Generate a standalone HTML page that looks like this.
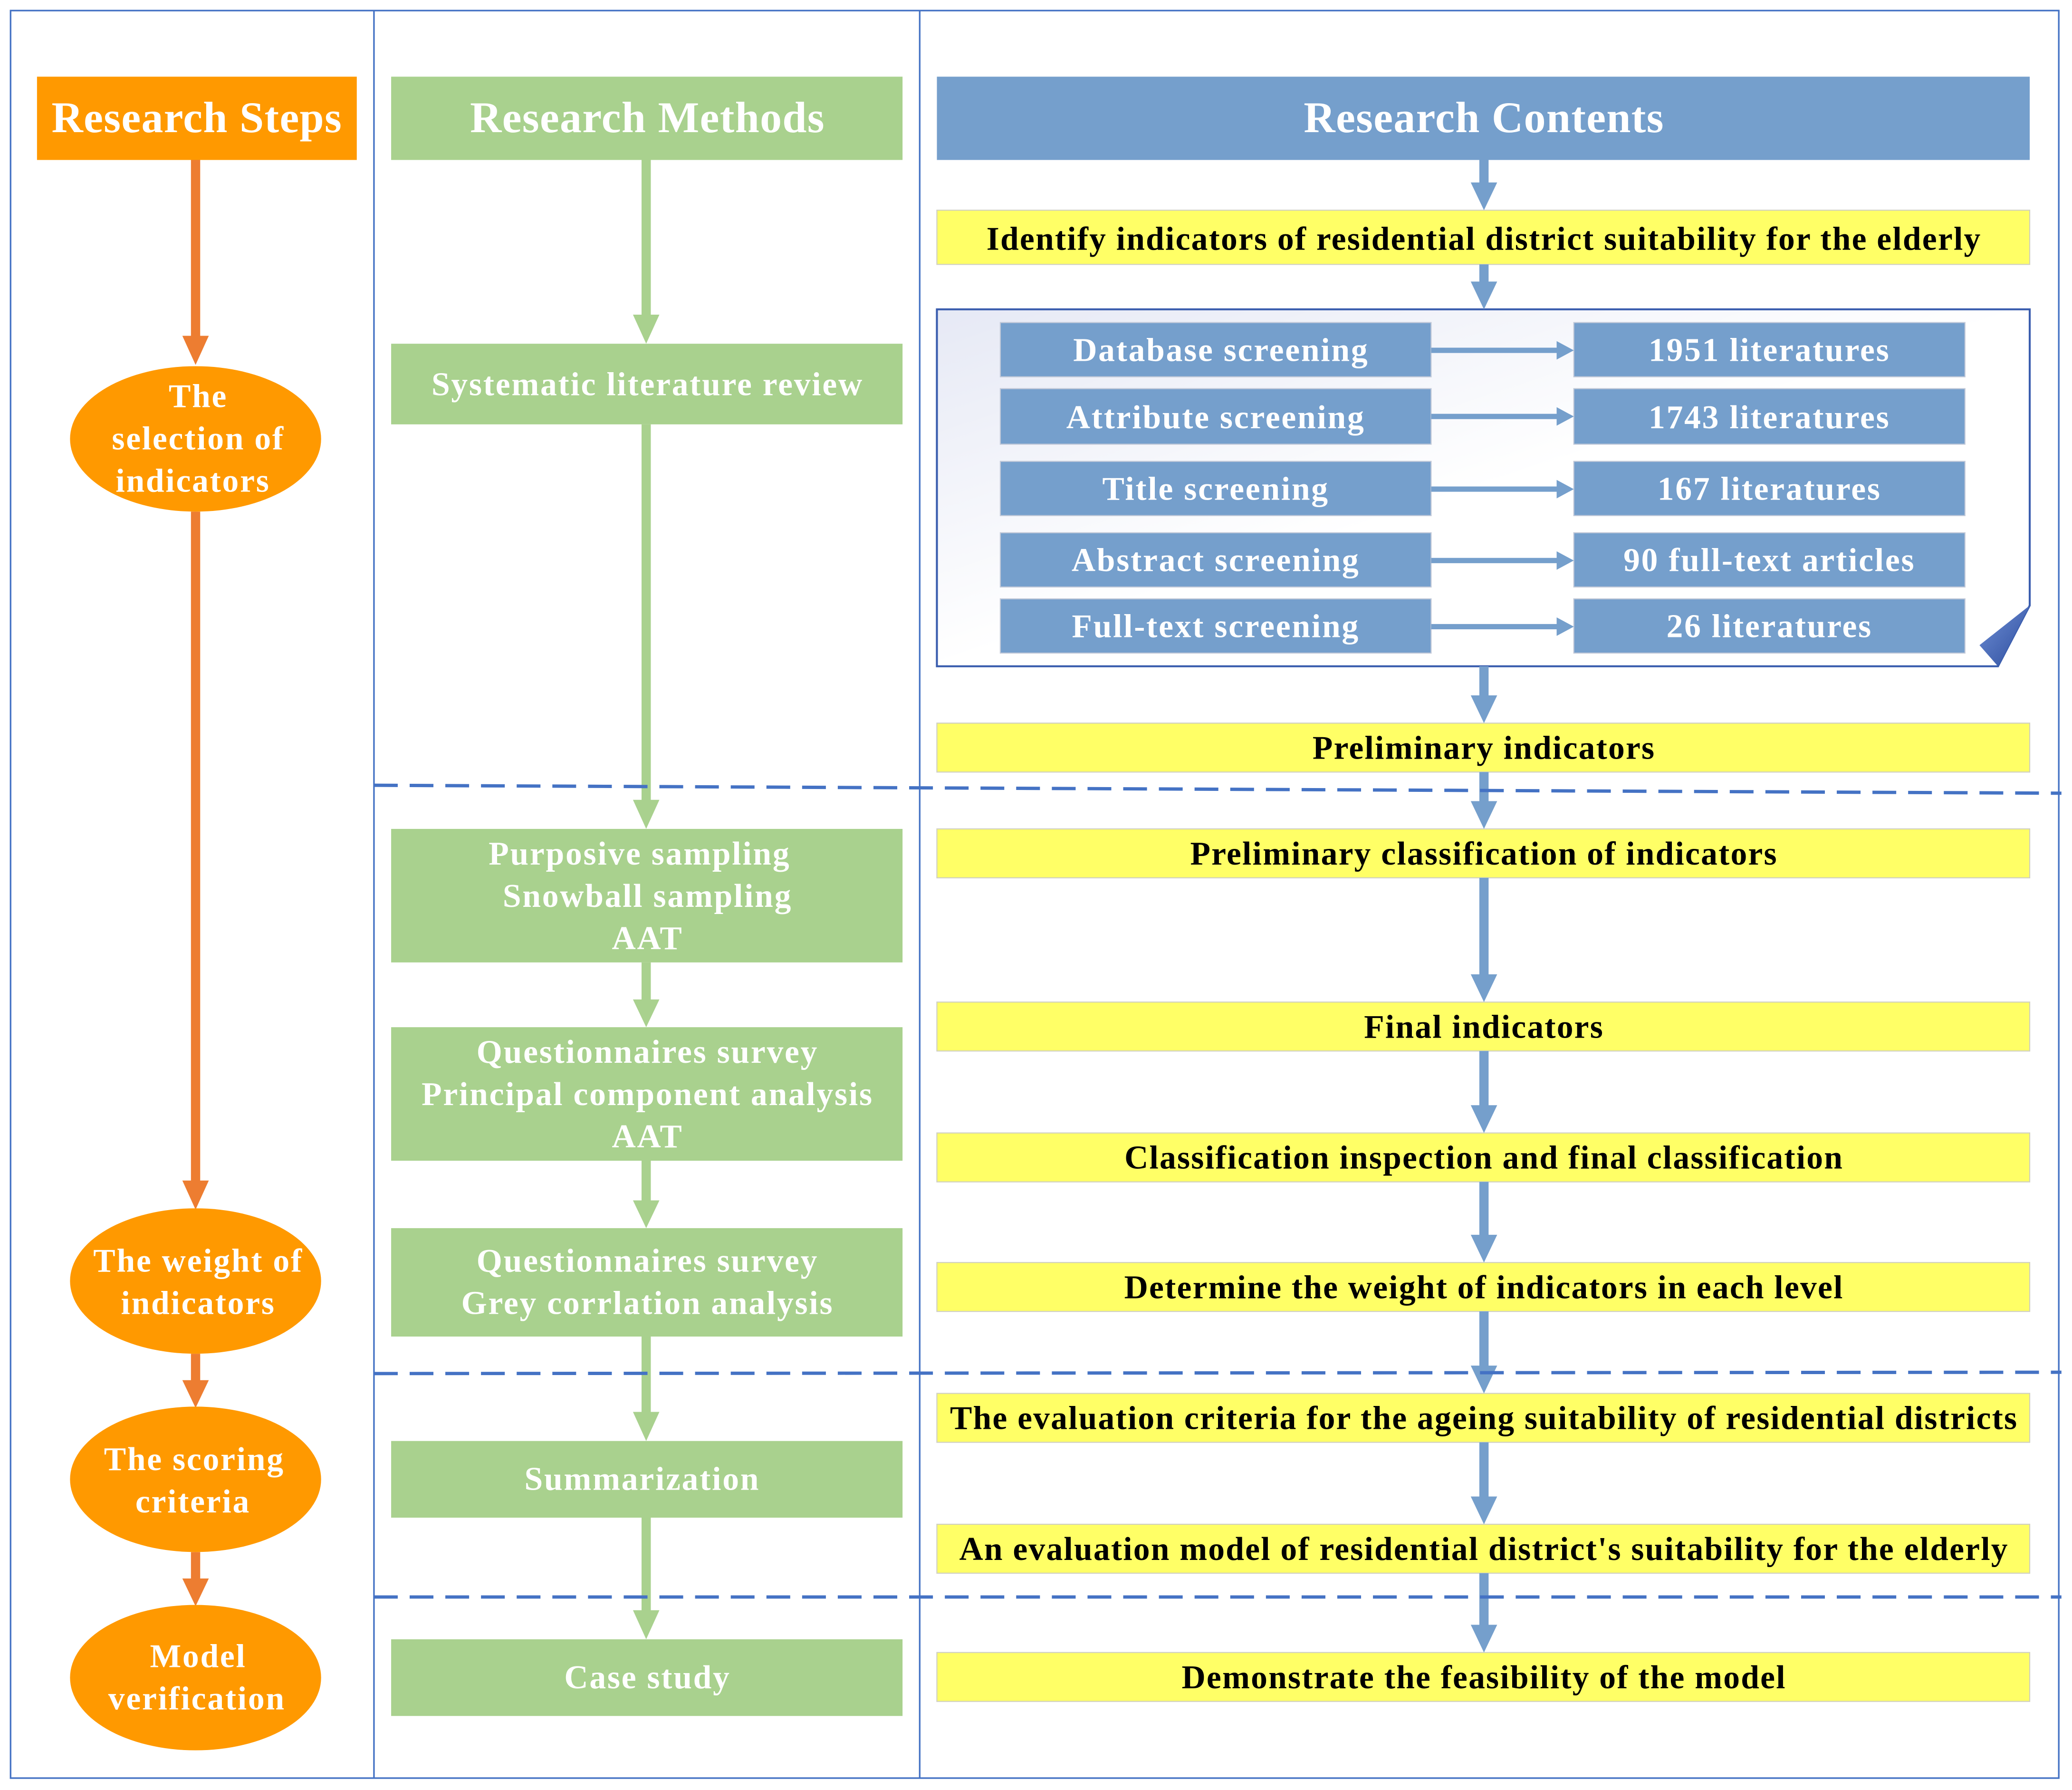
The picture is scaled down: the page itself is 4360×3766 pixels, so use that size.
<!DOCTYPE html>
<html><head><meta charset="utf-8"><style>
html,body{margin:0;padding:0;background:#fff;}
svg{display:block;}
text{font-family:"Liberation Serif",serif;font-weight:bold;}
</style></head><body>
<svg width="4360" height="3766" viewBox="0 0 1568 1354" preserveAspectRatio="none" xmlns="http://www.w3.org/2000/svg">
<defs>
<linearGradient id="g" x1="0" y1="0" x2="1" y2="1">
<stop offset="0" stop-color="#e6e9f5"/><stop offset="0.5" stop-color="#ffffff"/><stop offset="1" stop-color="#ffffff"/>
</linearGradient>
<linearGradient id="fold" x1="0" y1="0" x2="1" y2="1">
<stop offset="0" stop-color="#6f8fd6"/><stop offset="1" stop-color="#2c4c9c"/>
</linearGradient>
</defs>
<rect x="8" y="8" width="1550" height="1337" fill="none" stroke="#4472C4" stroke-width="1.2"/>
<line x1="283" y1="8" x2="283" y2="1345" stroke="#4472C4" stroke-width="1.2"/>
<line x1="696" y1="8" x2="696" y2="1345" stroke="#4472C4" stroke-width="1.2"/>

<rect x="28" y="58" width="242" height="63" fill="#FF9900"/>
<text x="149" y="100" font-size="33" letter-spacing="0.5" fill="#fff" text-anchor="middle">Research Steps</text>
<g stroke="#ED7D31" stroke-width="7">
<line x1="148" y1="121" x2="148" y2="258"/>
<line x1="148" y1="387" x2="148" y2="897"/>
<line x1="148" y1="1024" x2="148" y2="1048"/>
<line x1="148" y1="1174" x2="148" y2="1198"/>
</g>
<g fill="#ED7D31">
<polygon points="138,254 158,254 148,276"/>
<polygon points="138,893 158,893 148,915"/>
<polygon points="138,1044 158,1044 148,1065"/>
<polygon points="138,1194 158,1194 148,1215"/>
</g>
<g fill="#FF9900">
<ellipse cx="148" cy="332" rx="95" ry="55"/>
<ellipse cx="148" cy="969" rx="95" ry="55"/>
<ellipse cx="148" cy="1119" rx="95" ry="55"/>
<ellipse cx="148" cy="1269" rx="95" ry="55"/>
</g>
<g font-size="25" letter-spacing="1" fill="#fff" text-anchor="middle">
<text x="150" y="308">The</text>
<text x="150" y="340">selection of</text>
<text x="146" y="372">indicators</text>
<text x="150" y="962">The weight of</text>
<text x="150" y="994">indicators</text>
<text x="147" y="1112">The scoring</text>
<text x="146" y="1144">criteria</text>
<text x="150" y="1261">Model</text>
<text x="149" y="1293">verification</text>
</g>

<g fill="#A9D18E">
<rect x="296" y="58" width="387" height="63"/>
<rect x="296" y="260" width="387" height="61"/>
<rect x="296" y="627" width="387" height="101"/>
<rect x="296" y="777" width="387" height="101"/>
<rect x="296" y="929" width="387" height="82"/>
<rect x="296" y="1090" width="387" height="58"/>
<rect x="296" y="1240" width="387" height="58"/>
</g>
<g stroke="#A9D18E" stroke-width="7">
<line x1="489" y1="121" x2="489" y2="242"/>
<line x1="489" y1="321" x2="489" y2="609"/>
<line x1="489" y1="728" x2="489" y2="759"/>
<line x1="489" y1="878" x2="489" y2="911"/>
<line x1="489" y1="1011" x2="489" y2="1072"/>
<line x1="489" y1="1148" x2="489" y2="1222"/>
</g>
<g fill="#A9D18E">
<polygon points="479,238 499,238 489,260"/>
<polygon points="479,605 499,605 489,627"/>
<polygon points="479,756 499,756 489,777"/>
<polygon points="479,908 499,908 489,929"/>
<polygon points="479,1068 499,1068 489,1090"/>
<polygon points="479,1218 499,1218 489,1240"/>
</g>
<text x="490" y="100" font-size="33" letter-spacing="0.5" fill="#fff" text-anchor="middle">Research Methods</text>
<g font-size="25" fill="#fff" text-anchor="middle" letter-spacing="1">
<text x="490" y="299">Systematic literature review</text>
<text x="484" y="654">Purposive sampling</text>
<text x="490" y="686">Snowball sampling</text>
<text x="490" y="718">AAT</text>
<text x="490" y="804">Questionnaires survey</text>
<text x="490" y="836">Principal component analysis</text>
<text x="490" y="868">AAT</text>
<text x="490" y="962">Questionnaires survey</text>
<text x="490" y="994">Grey corrlation analysis</text>
<text x="486" y="1127">Summarization</text>
<text x="490" y="1277">Case study</text>
</g>

<rect x="709" y="58" width="827" height="63" fill="#759FCC"/>
<text x="1123" y="100" font-size="33" letter-spacing="0.5" fill="#fff" text-anchor="middle">Research Contents</text>
<path d="M709,234 H1536 V458 L1512,504 H709 Z" fill="url(#g)" stroke="#3A5DAE" stroke-width="1.5"/>
<polygon points="1536,458 1498,488 1512,504" fill="url(#fold)"/>
<g fill="#759FCC" stroke="#c0c8d8" stroke-width="0.8">
<rect x="757" y="244" width="326" height="41"/>
<rect x="757" y="294" width="326" height="42"/>
<rect x="757" y="349" width="326" height="41"/>
<rect x="757" y="403" width="326" height="41"/>
<rect x="757" y="453" width="326" height="41"/>
<rect x="1191" y="244" width="296" height="41"/>
<rect x="1191" y="294" width="296" height="42"/>
<rect x="1191" y="349" width="296" height="41"/>
<rect x="1191" y="403" width="296" height="41"/>
<rect x="1191" y="453" width="296" height="41"/>
</g>
<g stroke="#759FCC" stroke-width="4">
<line x1="1083" y1="265" x2="1180" y2="265"/>
<line x1="1083" y1="315" x2="1180" y2="315"/>
<line x1="1083" y1="370" x2="1180" y2="370"/>
<line x1="1083" y1="424" x2="1180" y2="424"/>
<line x1="1083" y1="474" x2="1180" y2="474"/>
</g>
<g fill="#759FCC">
<polygon points="1178,258 1191,265 1178,272"/>
<polygon points="1178,308 1191,315 1178,322"/>
<polygon points="1178,363 1191,370 1178,377"/>
<polygon points="1178,417 1191,424 1178,431"/>
<polygon points="1178,467 1191,474 1178,481"/>
</g>
<g font-size="25" fill="#fff" text-anchor="middle" letter-spacing="1">
<text x="924" y="273">Database screening</text>
<text x="920" y="324">Attribute screening</text>
<text x="920" y="378">Title screening</text>
<text x="920" y="432">Abstract screening</text>
<text x="920" y="482">Full-text screening</text>
<text x="1339" y="273">1951 literatures</text>
<text x="1339" y="324">1743 literatures</text>
<text x="1339" y="378">167 literatures</text>
<text x="1339" y="432">90 full-text articles</text>
<text x="1339" y="482">26 literatures</text>
</g>

<g fill="#FFFF66" stroke="#d0d0c0" stroke-width="0.8">
<rect x="709" y="159" width="827" height="41"/>
<rect x="709" y="547" width="827" height="37"/>
<rect x="709" y="627" width="827" height="37"/>
<rect x="709" y="758" width="827" height="37"/>
<rect x="709" y="857" width="827" height="37"/>
<rect x="709" y="955" width="827" height="37"/>
<rect x="709" y="1054" width="827" height="37"/>
<rect x="709" y="1153" width="827" height="37"/>
<rect x="709" y="1250" width="827" height="37"/>
</g>
<g stroke="#759FCC" stroke-width="7">
<line x1="1123" y1="121" x2="1123" y2="141"/>
<line x1="1123" y1="200" x2="1123" y2="216"/>
<line x1="1123" y1="504" x2="1123" y2="529"/>
<line x1="1123" y1="584" x2="1123" y2="609"/>
<line x1="1123" y1="664" x2="1123" y2="740"/>
<line x1="1123" y1="795" x2="1123" y2="839"/>
<line x1="1123" y1="894" x2="1123" y2="937"/>
<line x1="1123" y1="992" x2="1123" y2="1036"/>
<line x1="1123" y1="1091" x2="1123" y2="1135"/>
<line x1="1123" y1="1190" x2="1123" y2="1232"/>
</g>
<g fill="#759FCC">
<polygon points="1113,138 1133,138 1123,159"/>
<polygon points="1113,213 1133,213 1123,234"/>
<polygon points="1113,526 1133,526 1123,547"/>
<polygon points="1113,606 1133,606 1123,627"/>
<polygon points="1113,737 1133,737 1123,758"/>
<polygon points="1113,836 1133,836 1123,857"/>
<polygon points="1113,934 1133,934 1123,955"/>
<polygon points="1113,1033 1133,1033 1123,1054"/>
<polygon points="1113,1132 1133,1132 1123,1153"/>
<polygon points="1113,1229 1133,1229 1123,1250"/>
</g>
<g font-size="25" fill="#000" text-anchor="middle" letter-spacing="0.8">
<text x="1123" y="189">Identify indicators of residential district suitability for the elderly</text>
<text x="1123" y="574">Preliminary indicators</text>
<text x="1123" y="654">Preliminary classification of indicators</text>
<text x="1123" y="785">Final indicators</text>
<text x="1123" y="884">Classification inspection and final classification</text>
<text x="1123" y="982">Determine the weight of indicators in each level</text>
<text x="1123" y="1081">The evaluation criteria for the ageing suitability of residential districts</text>
<text x="1123" y="1180">An evaluation model of residential district's suitability for the elderly</text>
<text x="1123" y="1277">Demonstrate the feasibility of the model</text>
</g>

<g stroke="#4472C4" stroke-width="2.5" stroke-dasharray="18,9" fill="none">
<line x1="283" y1="594" x2="1560" y2="600"/>
<line x1="283" y1="1039" x2="1560" y2="1038"/>
<line x1="283" y1="1208" x2="1560" y2="1208"/>
</g>
</svg>
</body></html>
